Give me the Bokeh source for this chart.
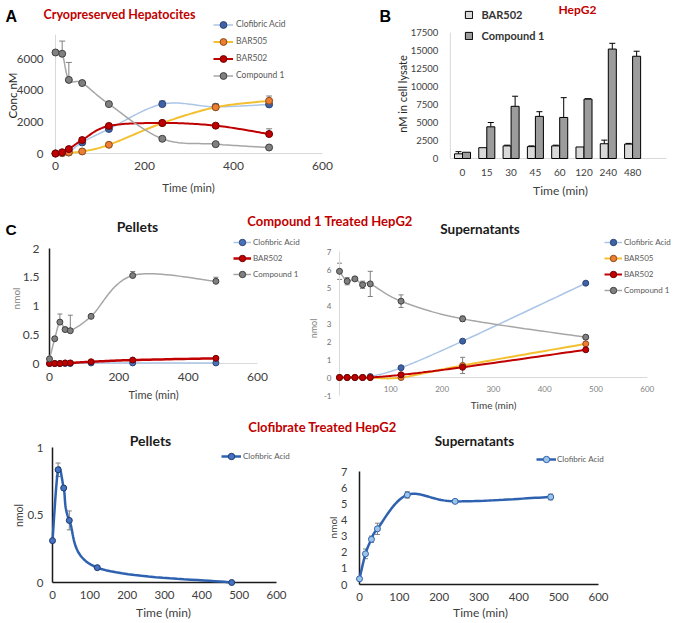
import numpy as np
from bokeh.plotting import figure
from bokeh.models import (Range1d, FixedTicker, Label, Legend, LegendItem,
                          Whisker, TeeHead, ColumnDataSource, AllLabels)
from bokeh.layouts import column, row
from bokeh.embed import file_html
from bokeh.resources import INLINE

FONT = "Lato"
LETTER_FONT = "Liberation Sans"

# ---------------- data ----------------
# A: Cryopreserved hepatocytes (Conc nM)
timesA = [0, 15, 30, 60, 120, 240, 360, 480]
clofA = [0, 40, 80, 700, 1550, 3120, 2950, 3100]
clofA_err = [0, 0, 0, 100, 150, 200, 150, 200]
bar505A = [0, 20, 60, 130, 550, 1920, 2920, 3330]
bar505A_err = [0, 0, 0, 50, 60, 100, 200, 300]
bar502A = [0, 80, 280, 850, 1740, 1930, 1760, 1230]
bar502A_err = [0, 0, 120, 150, 150, 100, 100, 330]
cmpdA = [6380, 6300, 4650, 4450, 3120, 930, 590, 380]
cmpdA_err = [0, 800, 1100, 0, 0, 0, 0, 0]
ticksA_y = [0, 2000, 4000, 6000]
ticksA_x = [0, 200, 400, 600]
A_y_axis_max = 7500

# B: HepG2 (nM in cell lysate)
catsB = ["0", "15", "30", "45", "60", "120", "240", "480"]
bar502B = [650, 1500, 1750, 1650, 1750, 1600, 2050, 2000]
bar502B_err = [300, 0, 100, 100, 100, 0, 500, 100]
cmpdB = [870, 4400, 7250, 5850, 5700, 8250, 15200, 14200]
cmpdB_err = [0, 600, 1400, 650, 2750, 50, 800, 700]
ticksB_y = [0, 2500, 5000, 7500, 10000, 12500, 15000, 17500]
B_x_axis_span = (-0.5, 8.4)

# C: Compound 1 treated HepG2 (nmol)
timesC = [0, 15, 30, 45, 60, 120, 240, 480]
cmpdCp = [0.08, 0.43, 0.72, 0.59, 0.57, 0.82, 1.53, 1.43]
cmpdCp_err = [0, 0.03, 0.14, 0.04, 0.27, 0, 0.07, 0.07]
bar502Cp = [0, 0, 0, 0.01, 0.01, 0.03, 0.06, 0.09]
clofCp = [0, 0, 0, 0, 0, 0.01, 0.01, 0.01]
ticksCp_y = [0, 0.5, 1, 1.5, 2]

cmpdCs = [5.9, 5.35, 5.48, 5.15, 5.2, 4.24, 3.26, 2.24]
cmpdCs_err = [0.45, 0.2, 0.05, 0.2, 0.7, 0.35, 0.15, 0.1]
clofCs = [0, 0, 0, 0, 0.05, 0.54, 2.02, 5.24]
bar505Cs = [0, 0, 0, 0, 0, 0, 0.67, 1.87]
bar505Cs_err = [0, 0, 0, 0, 0, 0, 0.45, 0.05]
bar502Cs = [0, 0, 0, 0, 0, 0.15, 0.57, 1.54]
bar502Cs_err = [0, 0, 0, 0, 0, 0, 0.1, 0.08]
ticksCs_y = [-1, 0, 1, 2, 3, 4, 5, 6, 7]
ticksCs_x = [100, 200, 300, 400, 500, 600]

# D: Clofibrate treated HepG2 (nmol)
timesDp = [0, 15, 30, 45, 120, 480]
clofDp = [0.31, 0.835, 0.70, 0.46, 0.11, 0.0]
clofDp_err = [0, 0.05, 0, 0.07, 0, 0]
ticksDp_y = [0, 0.5, 1]
timesDs = [0, 15, 30, 45, 120, 240, 480]
clofDs = [0.35, 1.9, 2.8, 3.45, 5.55, 5.15, 5.42]
clofDs_err = [0, 0.3, 0.2, 0.35, 0.2, 0.08, 0.18]
ticksDs_y = [0, 1, 2, 3, 4, 5, 6, 7]
ticksD_x = [0, 100, 200, 300, 400, 500, 600]

# colours
C_CLOF_LINE = "#abc5e6"
C_CLOF_MK = "#3f62a6"
C_505_LINE = "#f4c030"
C_505_MK = "#ed7d31"
C_502 = "#c00000"
C_CMPD_LINE = "#a6a6a6"
C_CMPD_MK = "#808080"
C_BLUE = "#2e62b0"
RED_TITLE = "#c00000"
TXT = "#404040"
LIGHT_AX = "#d9d9d9"
DARK_AX = "#1a1a1a"


# ---------------- helpers ----------------
def smooth_path(xs, ys, sx, sy, n=24):
    """Smoothed (Excel-like) path through the data points, computed in pixel space."""
    P = np.column_stack([np.asarray(xs, float) * sx, np.asarray(ys, float) * sy])
    m = len(P)
    out = [P[0]]
    t = np.linspace(0, 1, n)[1:, None]
    for i in range(m - 1):
        p0 = P[i - 1] if i > 0 else P[i]
        p1, p2 = P[i], P[i + 1]
        p3 = P[i + 2] if i + 2 < m else P[i + 1]
        c1 = p1 + (p2 - p0) / 6.0
        c2 = p2 - (p3 - p1) / 6.0
        b = (1 - t) ** 3 * p1 + 3 * (1 - t) ** 2 * t * c1 + 3 * (1 - t) * t ** 2 * c2 + t ** 3 * p2
        out.extend(b)
    out = np.array(out)
    return out[:, 0] / sx, out[:, 1] / sy


def make_fig(left, top, w, h, x0=0, sx=1.0, y0=0, sy=1.0, strip=False):
    """Canvas placed at page (left, top); frame fills the canvas.
    x0/y0: canvas pixel of data value 0; sx/sy: pixels per data unit."""
    xr = (-x0 / sx, (w - x0) / sx)
    yr = ((y0 - h) / sy, y0 / sy)
    kw = dict(width=w, height=h, x_range=Range1d(*xr), y_range=Range1d(*yr),
              title=None, toolbar_location=None, output_backend="svg", min_border=0)
    if strip:
        kw.update(x_axis_type=None, y_axis_type=None)
    p = figure(**kw)
    p.outline_line_color = None
    p.background_fill_color = "white"
    p.border_fill_color = "white"
    if not strip:
        p.xgrid.visible = False
        p.ygrid.visible = False
    p._left, p._bottom = left, top + h
    p._sx, p._sy = sx, sy
    return p


def style_axis(ax, ticks, size, fixed, color=TXT, standoff=6, overrides=None):
    ax.fixed_location = fixed
    ax.ticker = FixedTicker(ticks=ticks)
    ax.major_label_policy = AllLabels()
    ax.major_tick_line_color = None
    ax.minor_tick_line_color = None
    ax.major_tick_out = 0
    ax.major_tick_in = 0
    ax.axis_line_color = None
    ax.major_label_text_font = FONT
    ax.major_label_text_font_size = f"{size}px"
    ax.major_label_text_color = color
    ax.major_label_standoff = standoff
    if overrides:
        ax.major_label_overrides = overrides


def lab(p, text, px, py, size, color=TXT, bold=False, font=FONT, align="center",
        angle=0.0):
    """Text whose visual middle sits at page position (px, py)."""
    p.add_layout(Label(x=px - p._left, y=p._bottom - py, x_units="screen", y_units="screen",
                       text=text, text_font=font, text_font_size=f"{size}px",
                       text_color=color, text_font_style="bold" if bold else "normal",
                       text_align=align, text_baseline="middle", angle=angle))


def axis_line(p, xs, ys, color, width):
    p.line(xs, ys, line_color=color, line_width=width)


def add_series(p, xs, ys, line_color, line_width, fill, outline, size):
    lx, ly = smooth_path(xs, ys, p._sx, p._sy)
    r1 = p.line(lx, ly, line_color=line_color, line_width=line_width)
    r2 = p.scatter(xs, ys, marker="circle", size=size, fill_color=fill,
                   line_color=outline, line_width=1)
    return [r1, r2]


def add_err(p, xs, ys, err, color="#7f7f7f", head=5, both=False):
    bx, up, lo = [], [], []
    for x, y, e in zip(xs, ys, err):
        if e > 0:
            bx.append(x)
            up.append(y + e)
            lo.append(y - e if both else y)
    src = ColumnDataSource(dict(x=bx, upper=up, lower=lo))
    w = Whisker(base="x", upper="upper", lower="lower", source=src, dimension="height",
                line_color=color, line_width=1,
                upper_head=TeeHead(size=head, line_color=color, line_width=1),
                lower_head=TeeHead(size=head, line_color=color, line_width=1) if both else None)
    p.add_layout(w)


def add_legend(p, items, px_left, py_bottom, size, item_h, glyph_w, standoff,
               color="#595959", bold=False, glyph_h=None):
    leg = Legend(items=[LegendItem(label=l, renderers=r) for l, r in items],
                 location=(px_left - p._left, p._bottom - py_bottom),
                 orientation="vertical",
                 label_text_font=FONT, label_text_font_size=f"{size}px",
                 label_text_color=color,
                 label_text_font_style="bold" if bold else "normal",
                 glyph_width=glyph_w, glyph_height=glyph_h or item_h,
                 label_height=item_h, spacing=0, padding=0, margin=0,
                 border_line_color=None, background_fill_alpha=0,
                 label_standoff=standoff)
    p.add_layout(leg)


# ================= Row 1 (page y 0..198) =================
fA = make_fig(0, 0, 340, 198, x0=55, sx=267 / 600, y0=153, sy=95 / 6000)
style_axis(fA.xaxis[0], ticksA_x, 12, 0, standoff=8)
style_axis(fA.yaxis[0], ticksA_y, 11.5, 0, standoff=12)
axis_line(fA, [0, ticksA_x[-1]], [0, 0], LIGHT_AX, 1)
axis_line(fA, [0, 0], [0, A_y_axis_max], LIGHT_AX, 1)
add_err(fA, timesA, clofA, clofA_err, head=6)
add_err(fA, timesA, bar505A, bar505A_err, head=6)
add_err(fA, timesA, bar502A, bar502A_err, head=6)
add_err(fA, timesA, cmpdA, cmpdA_err, head=6)
rA1 = add_series(fA, timesA, clofA, C_CLOF_LINE, 1.5, C_CLOF_MK, "#2b4474", 7)
rA2 = add_series(fA, timesA, bar505A, C_505_LINE, 2, C_505_MK, "#8a4a1a", 7)
rA3 = add_series(fA, timesA, bar502A, C_502, 2, C_502, "#6e0000", 7)
rA4 = add_series(fA, timesA, cmpdA, C_CMPD_LINE, 1.5, C_CMPD_MK, "#404040", 7)
add_legend(fA, [("Clofibric Acid", rA1), ("BAR505", rA2), ("BAR502", rA3),
                ("Compound 1", rA4)], 213, 83.5, 8.5, 17, 20, 3)
lab(fA, "A", 5, 15.5, 16, color="black", bold=True, font=LETTER_FONT, align="left")
lab(fA, "Cryopreserved Hepatocites", 43, 14, 12.5, color=RED_TITLE, bold=True, align="left")
lab(fA, "Conc nM", 12, 95, 11.5, color="#262626", angle=np.pi / 2)
lab(fA, "Time (min)", 188, 187, 11.5)

idxB = np.arange(len(catsB))
fB = make_fig(340, 0, 336, 198, x0=122, sx=24.3, y0=158, sy=126 / ticksB_y[-1])
style_axis(fB.xaxis[0], list(range(len(catsB))), 10, 0, standoff=10,
           overrides={i: c for i, c in enumerate(catsB)})
style_axis(fB.yaxis[0], ticksB_y, 9.5, B_x_axis_span[0], standoff=12)
axis_line(fB, list(B_x_axis_span), [0, 0], LIGHT_AX, 1)
axis_line(fB, [B_x_axis_span[0]] * 2, [0, ticksB_y[-1]], LIGHT_AX, 1)
rB1 = fB.vbar(x=idxB - 0.165, top=bar502B, width=0.33, fill_color="#d9d9d9",
              line_color="black", line_width=1)
rB2 = fB.vbar(x=idxB + 0.165, top=cmpdB, width=0.33, fill_color="#9c9c9c",
              line_color="black", line_width=1)
add_err(fB, idxB - 0.165, bar502B, bar502B_err, color="black", head=6)
add_err(fB, idxB + 0.165, cmpdB, cmpdB_err, color="black", head=6)
add_legend(fB, [("BAR502", [rB1]), ("Compound 1", [rB2])], 463.5, 45.5, 11, 21, 9, 9,
           color="#333333", bold=True, glyph_h=9)
lab(fB, "B", 379, 15.5, 16, color="black", bold=True, font=LETTER_FONT, align="left")
lab(fB, "HepG2", 577, 8.5, 12, color=RED_TITLE, bold=True)
lab(fB, "nM in cell lysate", 402, 93.5, 11, color="#262626", angle=np.pi / 2)
lab(fB, "Time (min)", 560, 190, 12)

row1 = row(fA, fB)

# ================= strip with C headings (page y 198..237) =================
s2 = make_fig(0, 198, 676, 39, strip=True)
lab(s2, "C", 5, 228.5, 15.5, color="black", bold=True, font=LETTER_FONT, align="left")
lab(s2, "Pellets", 137, 226, 14, color="#1a1a1a", bold=True)
lab(s2, "Compound 1 Treated HepG2", 329.5, 220.5, 13, color=RED_TITLE, bold=True)
lab(s2, "Supernatants", 479.5, 228, 13.5, color="#1a1a1a", bold=True)

# ================= Row 2 (page y 237..413) =================
fCp = make_fig(0, 237, 306, 176, x0=49, sx=208 / 600, y0=126, sy=57.5)
style_axis(fCp.xaxis[0], ticksA_x, 12, 0, standoff=9)
style_axis(fCp.yaxis[0], ticksCp_y, 12, 0, standoff=10)
axis_line(fCp, [0, ticksA_x[-1]], [0, 0], LIGHT_AX, 1)
axis_line(fCp, [0, 0], [0, ticksCp_y[-1]], DARK_AX, 1.5)
add_err(fCp, timesC, cmpdCp, cmpdCp_err, head=5)
rC1 = add_series(fCp, timesC, clofCp, C_CLOF_LINE, 1.5, "#4a72b8", "#2b4474", 6)
rC2 = add_series(fCp, timesC, bar502Cp, C_502, 2.5, C_502, "#6e0000", 6)
rC3 = add_series(fCp, timesC, cmpdCp, C_CMPD_LINE, 1.5, C_CMPD_MK, "#404040", 6)
add_legend(fCp, [("Clofibric Acid", rC1), ("BAR502", rC2), ("Compound 1", rC3)],
           233, 282, 8, 16, 18, 2)
lab(fCp, "nmol", 15, 298, 10, color="#7f7f7f", angle=np.pi / 2)
lab(fCp, "Time (min)", 153, 394, 11)

fCs = make_fig(306, 237, 370, 176, x0=33, sx=0.513, y0=140, sy=18)
style_axis(fCs.xaxis[0], ticksCs_x, 8, 0, color="#7f7f7f", standoff=8)
style_axis(fCs.yaxis[0], ticksCs_y, 8, 0, color="#6f6f6f", standoff=8,
           overrides={t: str(t) for t in ticksCs_y})
axis_line(fCs, [0, ticksCs_x[-1]], [0, 0], LIGHT_AX, 1)
axis_line(fCs, [0, 0], [ticksCs_y[0], ticksCs_y[-1]], LIGHT_AX, 1)
add_err(fCs, timesC, cmpdCs, cmpdCs_err, head=5, both=True)
add_err(fCs, timesC, bar505Cs, bar505Cs_err, head=5, both=True)
add_err(fCs, timesC, bar502Cs, bar502Cs_err, head=5, both=True)
rS1 = add_series(fCs, timesC, clofCs, C_CLOF_LINE, 1.5, C_CLOF_MK, "#2b4474", 6)
rS2 = add_series(fCs, timesC, bar505Cs, C_505_LINE, 2, C_505_MK, "#8a4a1a", 6)
rS3 = add_series(fCs, timesC, bar502Cs, C_502, 2, C_502, "#6e0000", 6)
rS4 = add_series(fCs, timesC, cmpdCs, C_CMPD_LINE, 1.5, C_CMPD_MK, "#404040", 6)
add_legend(fCs, [("Clofibric Acid", rS1), ("BAR505", rS2), ("BAR502", rS3),
                 ("Compound 1", rS4)], 604, 298, 8, 16, 18, 2)
lab(fCs, "nmol", 313, 328, 9, color="#7f7f7f", angle=np.pi / 2)
lab(fCs, "Time (min)", 493, 404, 10)

row2 = row(fCp, fCs)

# ================= strip with D heading (page y 413..433) =================
s3 = make_fig(0, 413, 676, 20, strip=True)
lab(s3, "Clofibrate Treated HepG2", 322, 426, 13, color=RED_TITLE, bold=True)

# ================= Row 3 (page y 433..623) =================
fDp = make_fig(0, 433, 315, 190, x0=52, sx=224 / 600, y0=149, sy=135)
style_axis(fDp.xaxis[0], ticksD_x, 11.5, 0, standoff=8)
style_axis(fDp.yaxis[0], ticksDp_y, 11.5, 0, standoff=9)
axis_line(fDp, [0, ticksD_x[-1]], [0, 0], DARK_AX, 1.5)
axis_line(fDp, [0, 0], [0, ticksDp_y[-1]], DARK_AX, 1.5)
add_err(fDp, timesDp, clofDp, clofDp_err, head=5, both=True)
rD1 = add_series(fDp, timesDp, clofDp, C_BLUE, 2.5, "#4472c4", "#1f3864", 6)
add_legend(fDp, [("Clofibric Acid", rD1)], 221, 464, 8, 16, 20, 2)
lab(fDp, "Pellets", 150, 440, 14, color="#1a1a1a", bold=True)
lab(fDp, "nmol", 18, 515, 10.5, angle=np.pi / 2)
lab(fDp, "Time (min)", 163, 612, 12)

fDs = make_fig(315, 433, 361, 190, x0=44, sx=239 / 600, y0=151, sy=113 / 7)
style_axis(fDs.xaxis[0], ticksD_x, 11.5, 0, standoff=8)
style_axis(fDs.yaxis[0], ticksDs_y, 11, 0, standoff=12)
axis_line(fDs, [0, ticksD_x[-1]], [0, 0], DARK_AX, 1.5)
axis_line(fDs, [0, 0], [0, ticksDs_y[-1]], DARK_AX, 1.5)
add_err(fDs, timesDs, clofDs, clofDs_err, head=5, both=True)
rE1 = add_series(fDs, timesDs, clofDs, C_BLUE, 2.5, "#9dc3e6", "#2e62b0", 6)
add_legend(fDs, [("Clofibric Acid", rE1)], 536, 467, 8, 16, 20, 1)
lab(fDs, "Supernatants", 474, 440, 13.5, color="#1a1a1a", bold=True)
lab(fDs, "nmol", 332, 527, 10, angle=np.pi / 2)
lab(fDs, "Time (min)", 480, 612, 12)

row3 = row(fDp, fDs)

layout = column(row1, s2, row2, s3, row3)

open("out.html", "w").write(file_html(layout, INLINE))
